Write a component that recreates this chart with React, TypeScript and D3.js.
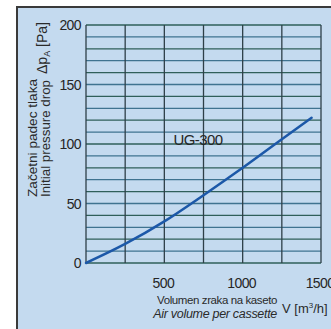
import React, { useEffect, useRef } from "react";
import * as d3 from "d3";

// air volume [m3/h] vs initial pressure drop [Pa], UG-300
const airVolume = [0, 250, 500, 750, 1000, 1250, 1440];
const pressureDrop = [0, 16, 35, 57, 80, 104, 122];
const xTicks = [500, 1000, 1500];
const yTicks = [0, 50, 100, 150, 200];
const seriesName = "UG-300";

const W = 331;
const H = 329;

export default function App() {
  const ref = useRef<SVGSVGElement>(null);

  useEffect(() => {
    const svg = d3.select(ref.current);
    svg.selectAll("*").remove();

    const x = d3.scaleLinear().domain([0, 1500]).range([86, 321]);
    const y = d3.scaleLinear().domain([0, 200]).range([263, 25]);

    svg.append("rect").attr("width", W).attr("height", H).attr("fill", "#fff");
    svg
      .append("rect")
      .attr("x", 17)
      .attr("y", 7)
      .attr("width", W)
      .attr("height", H)
      .attr("fill", "#c4daef")
      .attr("stroke", "#3a3a3a")
      .attr("stroke-width", 2);

    const grid = svg.append("g");
    // horizontal lines every 10 Pa
    grid
      .selectAll("line.h")
      .data(d3.range(0, 201, 10))
      .join("line")
      .attr("x1", x(0))
      .attr("x2", x(1500))
      .attr("y1", (d) => y(d))
      .attr("y2", (d) => y(d))
      .attr("stroke", (d) => (d % 20 === 0 ? "#2f5f5a" : "#3f7390"))
      .attr("stroke-width", 1.3);

    // vertical lines every 250 m3/h
    grid
      .selectAll("line.v")
      .data(d3.range(0, 1501, 250))
      .join("line")
      .attr("x1", (d) => x(d))
      .attr("x2", (d) => x(d))
      .attr("y1", y(0))
      .attr("y2", y(200))
      .attr("stroke", "#2e3f48")
      .attr("stroke-width", 1.3);

    const font = "'Liberation Sans', Arial, sans-serif";

    svg
      .append("g")
      .selectAll("text")
      .data(yTicks)
      .join("text")
      .attr("x", 81)
      .attr("y", (d) => y(d) + 5)
      .attr("text-anchor", "end")
      .attr("font-family", font)
      .attr("font-size", 14)
      .attr("letter-spacing", -0.6)
      .attr("fill", "#262626")
      .text((d) => d);

    svg
      .append("g")
      .selectAll("text")
      .data(xTicks)
      .join("text")
      .attr("x", (d) => x(d) - 1)
      .attr("y", 288)
      .attr("text-anchor", "middle")
      .attr("font-family", font)
      .attr("font-size", 14)
      .attr("letter-spacing", -0.6)
      .attr("fill", "#262626")
      .text((d) => d);

    const line = d3
      .line<number>()
      .x((d, i) => x(airVolume[i]))
      .y((d) => y(d))
      .curve(d3.curveCatmullRom);

    svg
      .append("path")
      .datum(pressureDrop)
      .attr("d", line)
      .attr("fill", "none")
      .attr("stroke", "#1c58a8")
      .attr("stroke-width", 2.5)
      .attr("stroke-linecap", "round");

    svg
      .append("text")
      .attr("x", 198)
      .attr("y", 145)
      .attr("text-anchor", "middle")
      .attr("font-family", font)
      .attr("font-size", 15)
      .attr("letter-spacing", -0.6)
      .attr("fill", "#262626")
      .text(seriesName);

    // y axis title
    const yt = svg.append("g").attr("font-family", font).attr("fill", "#2a2a2a");
    yt.append("text")
      .attr("transform", "translate(37,79) rotate(-90)")
      .attr("text-anchor", "end")
      .attr("font-size", 13)
      .attr("textLength", 118)
      .attr("lengthAdjust", "spacingAndGlyphs")
      .text("Začetni padec tlaka");
    yt.append("text")
      .attr("transform", "translate(50,80) rotate(-90)")
      .attr("text-anchor", "end")
      .attr("font-size", 13)
      .attr("textLength", 117)
      .attr("lengthAdjust", "spacingAndGlyphs")
      .text("Initial pressure drop");
    const pa = yt
      .append("text")
      .attr("transform", "translate(47,74) rotate(-90)")
      .attr("text-anchor", "start")
      .attr("font-size", 14);
    pa.append("tspan").text("Δp");
    pa.append("tspan").attr("font-size", 9).attr("dy", 3).text("A");
    pa.append("tspan").attr("dy", -3).text(" [Pa]");

    // x axis title
    const xt = svg.append("g").attr("font-family", font).attr("fill", "#2a2a2a");
    xt.append("text")
      .attr("x", 277)
      .attr("y", 304)
      .attr("text-anchor", "end")
      .attr("font-size", 11.5)
      .attr("letter-spacing", -0.4)
      .text("Volumen zraka na kaseto");
    xt.append("text")
      .attr("x", 277)
      .attr("y", 318)
      .attr("text-anchor", "end")
      .attr("font-size", 12.5)
      .attr("font-style", "italic")
      .attr("letter-spacing", -0.3)
      .text("Air volume per cassette");
    const vt = xt
      .append("text")
      .attr("x", 282)
      .attr("y", 313)
      .attr("font-size", 13);
    vt.append("tspan").text("V [m");
    vt.append("tspan").attr("font-size", 8).attr("dy", -5).text("3");
    vt.append("tspan").attr("dy", 5).text("/h]");
  }, []);

  return (
    <svg
      ref={ref}
      width={W}
      height={H}
      style={{ position: "absolute", left: 0, top: 0 }}
    />
  );
}
